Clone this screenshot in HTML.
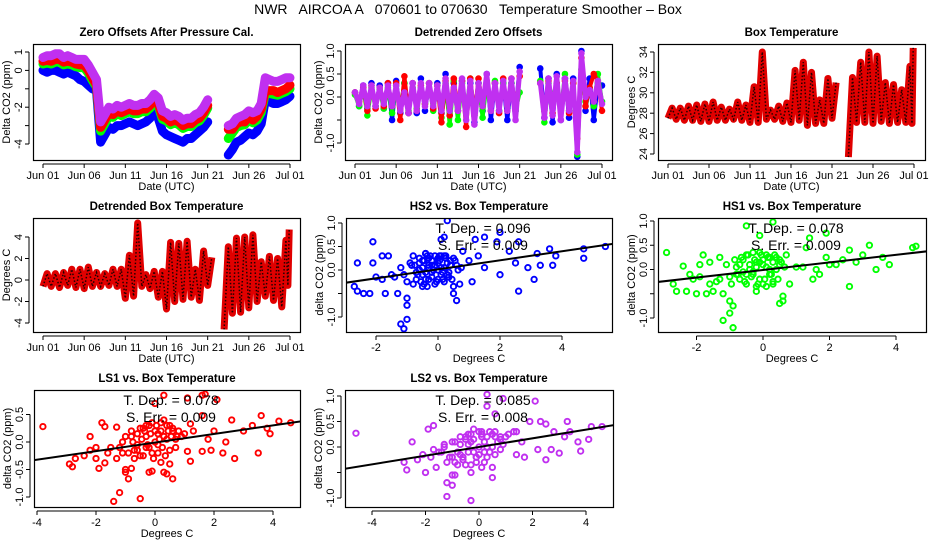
<!DOCTYPE html>
<html><head><meta charset="utf-8"><title>NWR AIRCOA A Temperature Smoother</title>
<style>
html,body{margin:0;padding:0;background:#fff;}
svg{display:block;font-family:"Liberation Sans",sans-serif;}
</style></head>
<body>
<svg id="chart" width="936" height="540" viewBox="0 0 936 540" xmlns="http://www.w3.org/2000/svg">
<rect x="0" y="0" width="936" height="540" fill="#fff"/>
<text x="468" y="14" font-size="14" text-anchor="middle" xml:space="preserve">NWR   AIRCOA A   070601 to 070630   Temperature Smoother – Box</text>
</svg>
<script>
const N = null;
// ---- Panel 1: zero offsets (half-day samples, day = index/2) ----
const zoMagenta = [0.7,0.8,0.8,0.9,0.9,0.7,0.8,0.7,0.6,0.6,0.6,0.3,-0.1,-0.5,
 -2.8,-2.4,-2.0,-2.1,-1.9,-2.0,-1.9,-1.8,-1.9,-1.9,-1.8,-1.8,-1.6,-1.3,-1.5,-2.2,-2.3,-2.5,-2.4,-2.5,-2.7,-2.6,-2.6,-2.4,-2.3,-2.0,-1.6,
 N,N,N,N,
 -3.0,-2.9,-2.6,-2.5,-2.4,-2.2,-2.3,-2.2,-1.8,-0.4,-0.5,-0.6,-0.6,-0.5,-0.4,-0.4];
const zoRed = [0.5,0.55,0.5,0.6,0.6,0.45,0.5,0.45,0.35,0.3,0.3,0.0,-0.4,-0.8,
 -3.1,-2.7,-2.3,-2.4,-2.2,-2.3,-2.2,-2.1,-2.2,-2.2,-2.1,-2.1,-1.9,-1.6,-1.8,-2.5,-2.6,-2.8,-2.7,-2.8,-3.0,-2.9,-2.9,-2.7,-2.6,-2.3,-1.9,
 N,N,N,N,
 -3.2,-3.2,-2.9,-2.8,-2.8,-2.5,-2.7,-2.5,-2.1,-1.1,-1.1,-1.1,-1.2,-1.1,-1.0,-0.8];
const zoGreen = [0.35,0.4,0.35,0.45,0.45,0.3,0.35,0.3,0.2,0.15,0.15,-0.15,-0.55,-0.9,
 -3.3,-2.9,-2.5,-2.55,-2.35,-2.45,-2.35,-2.25,-2.35,-2.35,-2.25,-2.25,-2.05,-1.75,-1.95,-2.65,-2.75,-2.95,-2.85,-2.95,-3.15,-3.05,-3.05,-2.85,-2.75,-2.45,-2.05,
 N,N,N,N,
 -3.7,-3.4,-3.1,-3.0,-2.95,-2.7,-2.85,-2.7,-2.3,-1.25,-1.25,-1.3,-1.35,-1.25,-1.15,-1.0];
const zoBlue = [0.0,-0.1,0.0,0.0,-0.1,-0.2,-0.1,-0.2,-0.3,-0.5,-0.6,-0.8,-1.0,-1.1,
 -3.9,-3.5,-3.1,-3.2,-3.0,-3.0,-2.9,-2.8,-2.9,-3.0,-2.9,-2.8,-2.6,-2.3,-2.6,-3.3,-3.5,-3.6,-3.7,-3.8,-3.9,-3.7,-3.7,-3.5,-3.3,-3.1,-2.8,
 N,N,N,N,
 -4.6,-4.3,-3.9,-3.8,-3.6,-3.4,-3.5,-3.3,-2.9,-1.6,-1.7,-1.8,-1.8,-1.7,-1.6,-1.4];
// ---- Panel 2: detrended zero offsets ----
const dzMagenta = [0.1,-0.15,0.25,-0.2,0.25,-0.2,0.2,-0.15,0.25,-0.2,0.25,-0.3,0.1,-0.35,0.3,-0.3,0.3,-0.2,0.3,-0.2,0.25,-0.3,0.4,-0.3,0.2,-0.3,0.4,-0.5,0.35,-0.6,0.3,-0.2,0.5,-0.3,0.3,-0.3,0.35,-0.3,0.4,-0.5,0.55,N,N,N,N,0.3,-0.45,0.4,-0.4,0.45,-0.5,0.4,-0.3,0.35,-1.2,0.95,0.0,0.15,-0.1,0.35,-0.15];
const dzRed = [0.1,-0.1,0.2,-0.3,0.25,-0.25,0.2,-0.2,0.3,-0.2,0.3,-0.5,0.45,-0.35,0.3,-0.3,0.25,-0.15,0.3,-0.25,0.25,-0.55,0.35,-0.4,0.4,-0.3,0.35,-0.65,0.4,-0.4,0.4,-0.2,0.35,-0.3,0.3,-0.35,0.4,-0.3,0.4,-0.25,0.45,N,N,N,N,0.3,-0.3,0.35,-0.35,0.3,-0.3,0.35,-0.35,0.3,-0.9,0.85,-0.2,0.2,0.5,0.35,-0.3];
const dzGreen = [0.05,-0.2,0.2,-0.4,0.2,-0.2,0.15,-0.25,0.2,-0.35,0.25,-0.25,0.3,-0.3,0.2,-0.25,0.2,-0.15,0.3,-0.3,0.25,-0.45,0.3,-0.6,0.35,-0.5,0.3,-0.3,0.4,-0.4,0.3,-0.45,0.3,-0.3,0.35,-0.3,0.3,-0.2,0.3,-0.3,0.1,N,N,N,N,0.35,-0.55,0.3,-0.05,0.3,-0.3,0.5,-0.3,0.3,-1.25,0.6,-0.1,0.2,-0.2,0.5,-0.1];
const dzBlue = [0.1,-0.2,0.25,-0.25,0.3,-0.2,0.25,-0.25,0.3,-0.5,0.35,-0.35,0.3,-0.35,0.3,-0.35,0.4,-0.3,0.3,-0.25,0.3,-0.35,0.5,-0.4,0.3,-0.3,0.35,-0.3,0.3,-0.55,0.3,-0.3,0.5,-0.5,0.3,-0.3,0.3,-0.5,0.3,-0.3,0.65,N,N,N,N,0.62,-0.45,0.4,-0.55,0.5,-0.5,0.4,-0.45,0.4,-1.3,1.0,-0.3,0.4,-0.5,0.3,0.25];
// ---- Panel 3/4: daily box temperature max/min (day 0 = Jun 01) ----
const btMax = [28.5,28.5,28.7,28.8,28.9,29.1,28.6,28.4,29.1,28.8,30.6,34.0,28.3,28.7,29.0,32.2,33.0,32.0,29.3,31.4,31.0,N,31.5,33.0,34.0,33.6,31.0,30.8,30.3,32.6,34.4];
const btMin = [27.5,27.4,27.3,27.3,27.2,27.2,27.3,27.3,27.4,27.3,27.1,27.1,27.4,27.4,27.2,27.1,27.3,26.8,27.0,27.0,27.5,N,23.7,27.1,27.1,27.0,27.2,27.0,27.1,27.1,27.0];
const dtMax = [0.6,0.6,0.7,1.0,1.0,1.2,0.7,0.6,1.0,1.0,2.3,5.3,0.5,0.8,0.8,3.5,3.4,3.6,1.0,2.7,2.1,N,3.1,3.9,4.0,4.2,1.7,2.2,2.0,3.7,4.7];
const dtMin = [-0.6,-0.6,-0.7,-0.5,-0.7,-0.8,-0.6,-0.6,-0.5,-0.6,-1.7,-1.5,-0.6,-0.8,-1.6,-2.7,-2.0,-1.8,-1.6,-1.9,-0.5,N,-4.6,-3.1,-3.0,-2.6,-2.0,-1.5,-1.9,-2.5,-0.5];
// ---- Scatter panels: [temperature, delta CO2] ----
const hs2X = [-2.1,-2.6,-2.1,-1.8,-1.6,-2.7,-2.6,-2.4,-2.2,-1.7,-1.3,-1.2,-1.1,-1.0,-1.0,-1.0,0.3,0.2,0.1,1.2,1.5,2.0,1.9,2.6,2.6,3.1,2.9,3.6,4.7,4.7,5.4,3.8,3.7,3.3,2.5,2.0,1.5,1.1,0.6,0.5,0.5,0.7,0.8,-0.4,-0.8,-1.5,-1.8,-2.0,-0.5,-0.3,-0.2,0.0,0.1,-0.1,0.2,-0.6,-0.2,0.3,0.4,-0.4,0.0,-0.1,0.2,-0.3,-0.7,0.6,1.0,1.3,2.3,3.2,-0.5,-0.4,-0.25,0.05,0.15,-0.15,0.35,-0.35,0.25,-0.45,
 -1.4,-1.2,-1.0,-0.9,-0.8,-0.75,-0.65,-0.6,-0.55,-0.5,-0.45,-0.35,-0.3,-0.2,-0.1,0.0,0.05,0.1,0.2,0.3,0.4,0.45,0.55,0.65,0.75,-1.1,-0.85,-0.7,-0.5,-0.2,0.0,0.25,0.5,-0.6,-0.3,0.1,0.35,-0.05,-0.4,0.15];
const hs2Y = [0.6,0.15,0.15,0.3,0.3,-0.35,-0.45,-0.5,-0.5,-0.5,-0.5,-1.15,-1.25,-1.05,-0.75,-0.6,1.05,0.7,0.65,0.65,0.7,0.8,0.6,0.6,-0.45,-0.2,0.05,0.45,0.45,0.25,0.5,0.3,0.1,0.1,0.15,-0.1,0.05,-0.25,-0.65,-0.5,-0.35,-0.3,0.4,0.35,0.3,-0.1,-0.2,-0.15,-0.1,0.1,0.2,0.25,-0.1,-0.3,0.05,0.15,-0.15,0.15,0.2,-0.2,0.0,0.1,-0.25,0.25,-0.05,0.1,0.2,0.3,0.4,0.35,0.05,-0.05,0.3,0.3,-0.2,0.0,-0.05,-0.35,0.3,0.2,
 -0.15,0.05,-0.25,0.15,-0.3,0.1,-0.1,0.25,-0.25,0.2,-0.3,0.3,-0.2,0.1,0.3,-0.2,0.2,0.05,0.3,-0.1,0.1,-0.2,0.2,0.0,0.05,-0.1,0.1,-0.2,-0.35,-0.05,0.15,0.25,0.25,0.0,0.05,0.3,-0.15,-0.25,0.35,-0.05];
const hs1X = [-2.9,-2.7,-2.6,-2.4,-2.3,-2.0,-1.8,-1.9,-1.7,-1.5,-1.3,-1.2,-1.2,-0.9,-1.0,-0.9,-1.0,-0.5,0.3,-0.1,1.4,1.9,1.3,2.6,2.6,3.2,4.5,4.6,3.8,3.6,3.0,2.2,1.7,1.5,0.6,0.5,0.6,0.8,0.3,-0.2,-0.7,-0.5,-0.3,0.1,-0.1,0.0,-0.4,0.2,-0.6,-0.2,0.4,0.5,-0.8,0.1,1.0,1.9,2.4,2.8,3.4,-1.6,-2.1,-1.4,-0.3,0.3,-0.1,0.7,0.0,-0.5,0.2,-0.2,
 -1.3,-1.1,-0.95,-0.85,-0.75,-0.65,-0.55,-0.45,-0.35,-0.25,-0.15,-0.05,0.05,0.15,0.25,0.35,0.45,0.55,0.65,-1.0,-0.8,-0.6,-0.4,-0.2,0.0,0.2,0.4,-0.7,-0.3,0.1,0.5,-0.5,-0.1,0.3,1.2,1.6,2.0,-1.9,-2.2,-1.6];
const hs1Y = [0.35,-0.3,-0.45,0.07,-0.45,-0.5,0.3,0.1,-0.5,-0.45,0.25,-0.5,-1.05,-1.2,-0.9,-0.75,-0.65,0.9,0.98,0.7,0.65,0.75,0.45,0.4,-0.35,0.5,0.45,0.48,0.1,0.25,0.3,0.1,-0.1,-0.2,-0.65,-0.7,-0.55,-0.3,-0.3,-0.45,-0.2,0.3,0.35,0.3,-0.2,0.1,0.0,0.0,0.2,0.15,0.25,0.1,-0.1,-0.35,0.05,0.25,0.2,0.15,0.0,0.15,-0.2,-0.25,-0.1,0.15,0.35,0.3,-0.3,-0.3,0.25,0.05,
 -0.2,0.1,-0.3,0.2,-0.1,0.25,-0.25,0.3,-0.15,0.2,-0.3,0.3,-0.2,0.25,-0.1,0.3,-0.2,0.15,0.05,-0.15,0.05,-0.05,0.1,-0.35,0.2,-0.1,0.0,0.1,-0.05,0.05,0.2,-0.1,0.15,-0.25,0.05,0.0,0.1,-0.15,-0.1,-0.3];
const ls1X = [-3.8,-2.9,-2.8,-2.7,-2.4,-2.2,-2.2,-2.0,-1.9,-1.8,-1.7,-1.7,-1.3,-1.3,-1.4,-1.2,-1.0,-1.0,-0.9,-0.5,-0.8,-0.2,-0.1,0.3,0.0,0.2,0.3,0.4,0.5,0.6,1.1,1.6,1.7,2.1,1.6,1.2,1.1,1.2,1.6,1.9,2.3,2.7,2.6,3.6,3.3,3.8,4.2,4.6,3.9,3.5,3.0,2.0,2.4,1.8,0.5,-0.5,-0.3,0.0,0.2,-0.2,0.4,-0.6,-0.4,0.1,-0.1,-0.8,0.7,0.3,-1.1,-1.5,0.1,-0.3,0.6,-0.7,
 -1.2,-1.0,-0.9,-0.8,-0.7,-0.6,-0.5,-0.4,-0.3,-0.2,-0.1,0.0,0.1,0.2,0.3,0.4,0.5,0.6,0.7,0.8,-1.1,-0.75,-0.45,-0.15,0.15,0.45,0.75,-0.6,-0.25,0.05,0.35,0.55,-0.35,0.25,-0.05,1.0,-1.6,-2.0,1.3,0.9];
const ls1Y = [0.28,-0.4,-0.45,-0.3,-0.25,0.1,-0.15,-0.3,-0.48,0.35,0.28,-0.38,0.27,-0.3,-1.08,-0.92,-0.5,-0.55,-0.67,-1.03,-0.48,-0.55,-0.53,0.85,0.7,-0.37,-0.55,-0.58,-0.4,-0.67,0.8,0.85,0.87,0.77,0.48,0.33,-0.17,-0.35,-0.17,-0.15,-0.2,-0.3,0.4,0.48,0.3,0.25,0.38,0.35,0.15,-0.2,0.2,0.2,0.0,0.05,0.3,0.25,0.1,0.0,0.2,-0.1,0.05,-0.05,-0.25,-0.2,0.35,0.1,-0.1,0.4,0.0,-0.1,0.15,0.3,0.2,-0.3,
 -0.1,0.1,-0.2,0.2,-0.15,0.15,-0.25,0.25,-0.1,0.3,-0.2,0.2,-0.05,0.35,0.1,0.3,-0.15,0.25,0.05,0.2,-0.2,0.0,0.05,0.15,0.05,0.2,0.1,-0.15,-0.05,0.3,-0.25,0.1,0.2,-0.1,-0.3,0.15,-0.2,-0.1,0.2,0.1];
const ls2X = [-4.6,-2.8,-2.7,-2.5,-2.3,-2.1,-2.0,-1.9,-1.7,-1.8,-1.6,-1.2,-1.2,-1.0,-1.0,-0.9,-0.3,-0.3,0.3,0.3,0.9,0.6,2.1,1.9,2.3,2.5,0.5,0.1,0.5,1.0,1.4,1.7,2.2,2.5,2.7,3.0,3.3,3.4,3.2,3.7,3.8,4.1,4.2,4.6,2.8,1.3,0.8,-0.5,-0.2,0.0,0.2,-0.4,-0.7,-1.0,-1.4,-0.1,0.4,0.6,-0.8,-1.3,0.1,-0.3,0.3,-0.6,0.8,1.6,
 -1.5,-1.3,-1.1,-0.9,-0.7,-0.5,-0.3,-0.1,0.1,0.3,0.5,0.7,0.9,-1.2,-0.8,-0.4,0.0,0.4,0.8,-1.0,-0.6,-0.2,0.2,0.6,-0.9,-0.5,-0.1,0.3,-0.7,-0.3,0.1,0.5,1.1,1.4,-1.7,-0.4,0.0,0.2,-0.2,0.6];
const ls2Y = [0.27,-0.3,-0.45,0.1,-0.25,-0.15,-0.5,0.35,0.42,-0.2,-0.4,-0.7,-0.97,-0.75,-0.55,-0.55,-1.05,-0.5,1.03,0.8,0.95,0.65,0.9,0.5,0.5,0.45,-0.6,-0.4,-0.4,0.2,-0.15,-0.2,-0.05,-0.25,-0.05,-0.12,0.5,0.3,0.2,0.1,-0.08,0.15,0.4,0.4,0.3,0.3,0.2,0.2,0.35,0.0,0.1,-0.1,0.05,-0.2,-0.1,-0.3,-0.1,0.3,-0.35,0.05,0.25,0.1,-0.2,-0.25,-0.05,0.1,
 -0.1,0.0,-0.2,0.1,-0.15,0.15,0.25,-0.2,0.3,0.2,0.25,0.1,0.05,-0.3,-0.1,0.05,-0.15,0.3,0.15,0.1,-0.2,0.15,-0.1,-0.15,-0.3,-0.35,-0.2,0.0,0.2,-0.35,0.2,0.0,0.25,0.3,-0.05,0.25,0.3,-0.3,-0.1,0.2];
const regSlope = [0.096, 0.078, 0.078, 0.085];
const regIntercept = [0.015, -0.01, -0.01, 0.0];
const statTDep = ["0.096","0.078","0.078","0.085"];
const statSErr = ["0.009","0.009","0.009","0.008"];
const dateTicks = [0,5,10,15,20,25,30];
const dateTickLabels = ["Jun 01","Jun 06","Jun 11","Jun 16","Jun 21","Jun 26","Jul 01"];

const svg = document.getElementById('chart');
const NS = 'http://www.w3.org/2000/svg';
function mk(tag, attrs, parent){
  const e = document.createElementNS(NS, tag);
  for (const k in attrs) e.setAttribute(k, attrs[k]);
  (parent||svg).appendChild(e);
  return e;
}
function lin(a1,p1,a2,p2){ return v => p1 + (v-a1)*(p2-p1)/(a2-a1); }

function frame(p){
  const g = mk('g', {});
  
  
  p.g = g;
  const t = mk('text', {x:(p.L+p.R)/2, y:p.T-8, 'font-size':11.5, 'font-weight':'bold', 'text-anchor':'middle'}, g);
  
  
  t.textContent = p.title;
  const cp = mk('clipPath', {id:'clip-'+p.name}, g);
  mk('rect', {x:p.L, y:p.T, width:p.R-p.L, height:p.B-p.T}, cp);
  const plot = mk('g', {'clip-path':'url(#clip-'+p.name+')'}, g);
  
  
  p.plot = plot;
  return p;
}
function axes(p){
  const g = p.g;
  const box = mk('rect', {x:p.L+0.5, y:p.T+0.5, width:p.R-p.L, height:p.B-p.T, fill:'none', stroke:'#000', 'stroke-width':1.2}, g);
  
  
  const xa = mk('g', {}, g);
  
  
  const xs = p.xt.map(p.x);
  mk('line', {x1:xs[0], x2:xs[xs.length-1], y1:p.B+4, y2:p.B+4, stroke:'#000'}, xa);
  p.xt.forEach((v,i) => {
    const X = p.x(v);
    mk('line', {x1:X, x2:X, y1:p.B+4, y2:p.B+8, stroke:'#000'}, xa);
    const tl = mk('text', {x:X, y:p.B+19, 'font-size':11, 'text-anchor':'middle'}, xa);
    
    
    tl.textContent = p.xl[i];
  });
  const xt = mk('text', {x:(p.L+p.R)/2, y:p.B+30, 'font-size':11, 'text-anchor':'middle'}, xa);
  
  
  xt.textContent = p.xtitle;
  const ya = mk('g', {}, g);
  
  
  const ys = p.yt.map(p.y);
  mk('line', {x1:p.L-4, x2:p.L-4, y1:Math.min(...ys), y2:Math.max(...ys), stroke:'#000'}, ya);
  p.yt.forEach((v,i) => {
    const Y = p.y(v);
    mk('line', {x1:p.L-8, x2:p.L-4, y1:Y, y2:Y, stroke:'#000'}, ya);
    if (p.yl[i] === '') return;
    const tl = mk('text', {x:0, y:0, 'font-size':11, 'text-anchor':'middle', transform:`translate(${p.L-11},${Y}) rotate(-90)`}, ya);
    
    
    tl.textContent = p.yl[i];
  });
  const yt = mk('text', {x:0, y:0, 'font-size':11, 'text-anchor':'middle', transform:`translate(${p.L-23},${(p.T+p.B)/2}) rotate(-90)`}, ya);
  
  
  yt.textContent = p.ytitle;
}
function series(p, vals, color, w, nm){
  const g = mk('g', {}, p.plot);
  
  
  let seg = [];
  const flush = () => {
    if (seg.length) {
      const pl = mk('polyline', {points:seg.join(' '), fill:'none', stroke:color, 'stroke-width':w, 'stroke-linejoin':'round', 'stroke-linecap':'round'}, g);
      
      
    }
    seg = [];
  };
  vals.forEach((v,i) => {
    if (v === null) { flush(); return; }
    seg.push(p.x(i/2).toFixed(1)+','+p.y(v).toFixed(1));
  });
  flush();
  vals.forEach((v,i) => {
    if (v === null) return;
    const c = mk('circle', {cx:p.x(i/2), cy:p.y(v), r:2.5, fill:'none', stroke:color, 'stroke-width':1.6}, g);
    
    
  });
}
function dailyRange(p, mx, mn, nm){
  const g = mk('g', {}, p.plot);
  
  
  let seg = [];
  const flush = () => {
    if (seg.length) {
      const pl = mk('polyline', {points:seg.join(' '), fill:'none', stroke:'#e00000', 'stroke-width':7, 'stroke-linejoin':'round'}, g);
      
      
      const pl2 = mk('polyline', {points:seg.join(' '), fill:'none', stroke:'#200', 'stroke-width':1.5, 'stroke-dasharray':'1.5 2'}, g);
      
      
    }
    seg = [];
  };
  mx.forEach((v,d) => {
    if (v === null) { flush(); return; }
    const d0 = Math.min(d, 29.75);
    seg.push(p.x(d0).toFixed(1)+','+p.y(mn[d]).toFixed(1));
    seg.push(p.x(Math.min(d0+0.5, 29.9)).toFixed(1)+','+p.y(v).toFixed(1));
  });
  flush();
}
function scatter(p, xs, ys, color, k, nm){
  const g = mk('g', {}, p.plot);
  
  
  xs.forEach((xv,i) => {
    const c = mk('circle', {cx:p.x(xv), cy:p.y(ys[i]), r:2.7, fill:'none', stroke:color, 'stroke-width':1.9}, g);
    
    
  });
  const x0 = -10, x1 = 10;
  const ln = mk('line', {x1:p.x(x0), y1:p.y(regIntercept[k]+regSlope[k]*x0), x2:p.x(x1), y2:p.y(regIntercept[k]+regSlope[k]*x1), stroke:'#000', 'stroke-width':2}, p.plot);
  
  
  const cx = (p.L+p.R)/2 + 4;
  const t1 = mk('text', {x:cx, y:p.T+15, 'font-size':14, 'text-anchor':'middle', 'xml:space':'preserve'}, p.g);
  
  
  t1.textContent = 'T. Dep. =  ' + statTDep[k];
  const t2 = mk('text', {x:cx, y:p.T+32, 'font-size':14, 'text-anchor':'middle', 'xml:space':'preserve'}, p.g);
  
  
  t2.textContent = 'S. Err. =  ' + statSErr[k];
}

const CO2 = 'Delta CO2 (ppm)', dCO2 = 'delta CO2 (ppm)';
const co2Ticks = [1,0.5,0,-0.5,-1], co2Labels = ['1.0','0.5','0.0','','-1.0'];
const degTicks = [-4,-2,0,2,4], degLabels = ['-4','-2','0','2','4'];

const p1 = frame({name:'zero-offsets-panel', title:'Zero Offsets After Pressure Cal.', L:33,R:300,T:44,B:160,
  x:lin(0,43,30,290), y:lin(1,52,-4,144), xt:dateTicks, xl:dateTickLabels, yt:[1,0,-1,-2,-3,-4], yl:['1','0','','-2','','-4'], xtitle:'Date (UTC)', ytitle:CO2});
series(p1, zoBlue, '#0000ff', 9, 'hs2-series');
series(p1, zoGreen, '#00ff00', 9, 'hs1-series');
series(p1, zoRed, '#ff0000', 9, 'ls1-series');
series(p1, zoMagenta, '#c030f0', 9, 'ls2-series');
axes(p1);

const p2 = frame({name:'detrended-zero-offsets-panel', title:'Detrended Zero Offsets', L:345,R:612,T:44,B:160,
  x:lin(0,355,30,602), y:lin(1,51,-1,143), xt:dateTicks, xl:dateTickLabels, yt:co2Ticks, yl:co2Labels, xtitle:'Date (UTC)', ytitle:CO2});
series(p2, dzBlue, '#0000ff', 4, 'hs2-detrended-series');
series(p2, dzGreen, '#00ff00', 4, 'hs1-detrended-series');
series(p2, dzRed, '#ff0000', 4, 'ls1-detrended-series');
series(p2, dzMagenta, '#c030f0', 5, 'ls2-detrended-series');
axes(p2);

const p3 = frame({name:'box-temperature-panel', title:'Box Temperature', L:658,R:925,T:44,B:160,
  x:lin(0,668,30,914), y:lin(34,52,24,154), xt:dateTicks, xl:dateTickLabels, yt:[24,26,28,30,32,34], yl:['24','26','28','30','32','34'], xtitle:'Date (UTC)', ytitle:'Degrees C'});
dailyRange(p3, btMax, btMin, 'box-temperature-series');
axes(p3);

const p4 = frame({name:'detrended-box-temperature-panel', title:'Detrended Box Temperature', L:33,R:300,T:218,B:332,
  x:lin(0,43,30,290), y:lin(4,237,-4,323), xt:dateTicks, xl:dateTickLabels, yt:degTicks, yl:degLabels, xtitle:'Date (UTC)', ytitle:'Degrees C'});
dailyRange(p4, dtMax, dtMin, 'detrended-box-temperature-series');
axes(p4);

const p5 = frame({name:'hs2-vs-temp-panel', title:'HS2 vs. Box Temperature', L:346,R:612,T:218,B:332,
  x:lin(0,438,4,562), y:lin(1,223,-1,317), xt:[-2,0,2,4], xl:['-2','0','2','4'], yt:co2Ticks, yl:co2Labels, xtitle:'Degrees C', ytitle:dCO2});
scatter(p5, hs2X, hs2Y, '#0000ff', 0, 'hs2-scatter');
axes(p5);

const p6 = frame({name:'hs1-vs-temp-panel', title:'HS1 vs. Box Temperature', L:658,R:926,T:218,B:332,
  x:lin(0,763,4,896), y:lin(1,221,-1,318), xt:[-2,0,2,4], xl:['-2','0','2','4'], yt:co2Ticks, yl:co2Labels, xtitle:'Degrees C', ytitle:dCO2});
scatter(p6, hs1X, hs1Y, '#00ff00', 1, 'hs1-scatter');
axes(p6);

const p7 = frame({name:'ls1-vs-temp-panel', title:'LS1 vs. Box Temperature', L:34,R:300,T:390,B:507,
  x:lin(0,155,4,273), y:lin(0,442,-1,497), xt:[-4,-2,0,2,4], xl:['-4','-2','0','2','4'], yt:[0.5,0,-0.5,-1], yl:['0.5','0.0','-0.5','-1.0'], xtitle:'Degrees C', ytitle:dCO2});
scatter(p7, ls1X, ls1Y, '#ff0000', 2, 'ls1-scatter');
axes(p7);

const p8 = frame({name:'ls2-vs-temp-panel', title:'LS2 vs. Box Temperature', L:345,R:613,T:390,B:507,
  x:lin(0,479,4,586), y:lin(0,447,-1,498), xt:[-4,-2,0,2,4], xl:['-4','-2','0','2','4'], yt:co2Ticks, yl:co2Labels, xtitle:'Degrees C', ytitle:dCO2});
scatter(p8, ls2X, ls2Y, '#c030f0', 3, 'ls2-scatter');
axes(p8);
</script>
</body></html>
